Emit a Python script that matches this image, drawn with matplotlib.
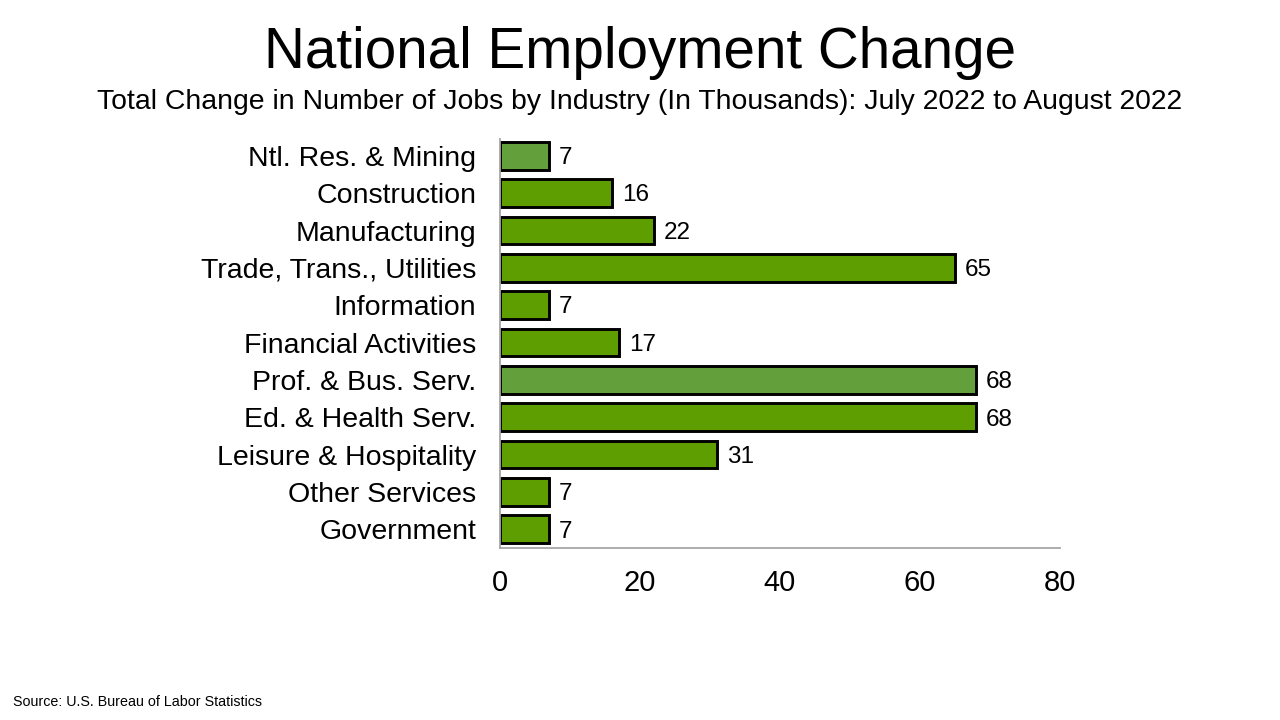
import matplotlib
matplotlib.use('Agg')
import matplotlib.pyplot as plt
from matplotlib import font_manager

# pick the regular (not Narrow) Liberation Sans file explicitly
reg_font = None
for f in font_manager.fontManager.ttflist:
    if f.fname.endswith('LiberationSans-Regular.ttf'):
        reg_font = f.fname
        break
if reg_font:
    fam = font_manager.FontProperties(fname=reg_font).get_name()
    plt.rcParams['font.family'] = [fam, 'DejaVu Sans']
else:
    plt.rcParams['font.family'] = ['Liberation Sans', 'DejaVu Sans']

def fp(size):
    if reg_font:
        return font_manager.FontProperties(fname=reg_font, size=size)
    return font_manager.FontProperties(family='Liberation Sans', size=size)

# data
industries = ['Ntl. Res. & Mining', 'Construction', 'Manufacturing',
              'Trade, Trans., Utilities', 'Information', 'Financial Activities',
              'Prof. & Bus. Serv.', 'Ed. & Health Serv.', 'Leisure & Hospitality',
              'Other Services', 'Government']
job_change = [7, 16, 22, 65, 7, 17, 68, 68, 31, 7, 7]
x_ticks = [0, 20, 40, 60, 80]

dark_green = '#5f9e00'
light_green = '#63a03c'
bar_colors = [light_green if i in (0, 6) else dark_green for i in range(len(industries))]

fig = plt.figure(figsize=(12.8, 7.2), dpi=100)
ax = fig.add_axes([0.3906, 0.2389, 0.4375, 0.568])

pos = list(range(len(industries)))
ax.barh(pos, job_change, height=0.74, color=bar_colors,
        edgecolor='black', linewidth=2.1)

for p, v in zip(pos, job_change):
    ax.text(v + 1.4, p + 0.06, str(v), va='center', ha='left', fontproperties=fp(17.5))

ax.set_ylim(len(industries) - 0.5, -0.45)
ax.set_xlim(0, 80)
ax.set_yticks(pos)
ax.set_yticklabels(industries, fontproperties=fp(20.5))
ax.set_xticks(x_ticks)
ax.set_xticklabels([str(t) for t in x_ticks], fontproperties=fp(21))
ax.tick_params(axis='both', length=0)
ax.tick_params(axis='y', pad=17)
ax.tick_params(axis='x', pad=15)

for s in ('top', 'right'):
    ax.spines[s].set_visible(False)
for s in ('left', 'bottom'):
    ax.spines[s].set_color('#a6a6a6')
    ax.spines[s].set_linewidth(1.3)

fig.text(0.5, 0.926, 'National Employment Change', ha='center', va='center',
         fontproperties=fp(40.8))
fig.text(0.5, 0.858, 'Total Change in Number of Jobs by Industry (In Thousands): July 2022 to August 2022',
         ha='center', va='center', fontproperties=fp(20.4))
fig.text(0.01, 0.025, 'Source: U.S. Bureau of Labor Statistics', ha='left', va='center',
         fontproperties=fp(10.3))

fig.savefig('out.png', dpi=100)
